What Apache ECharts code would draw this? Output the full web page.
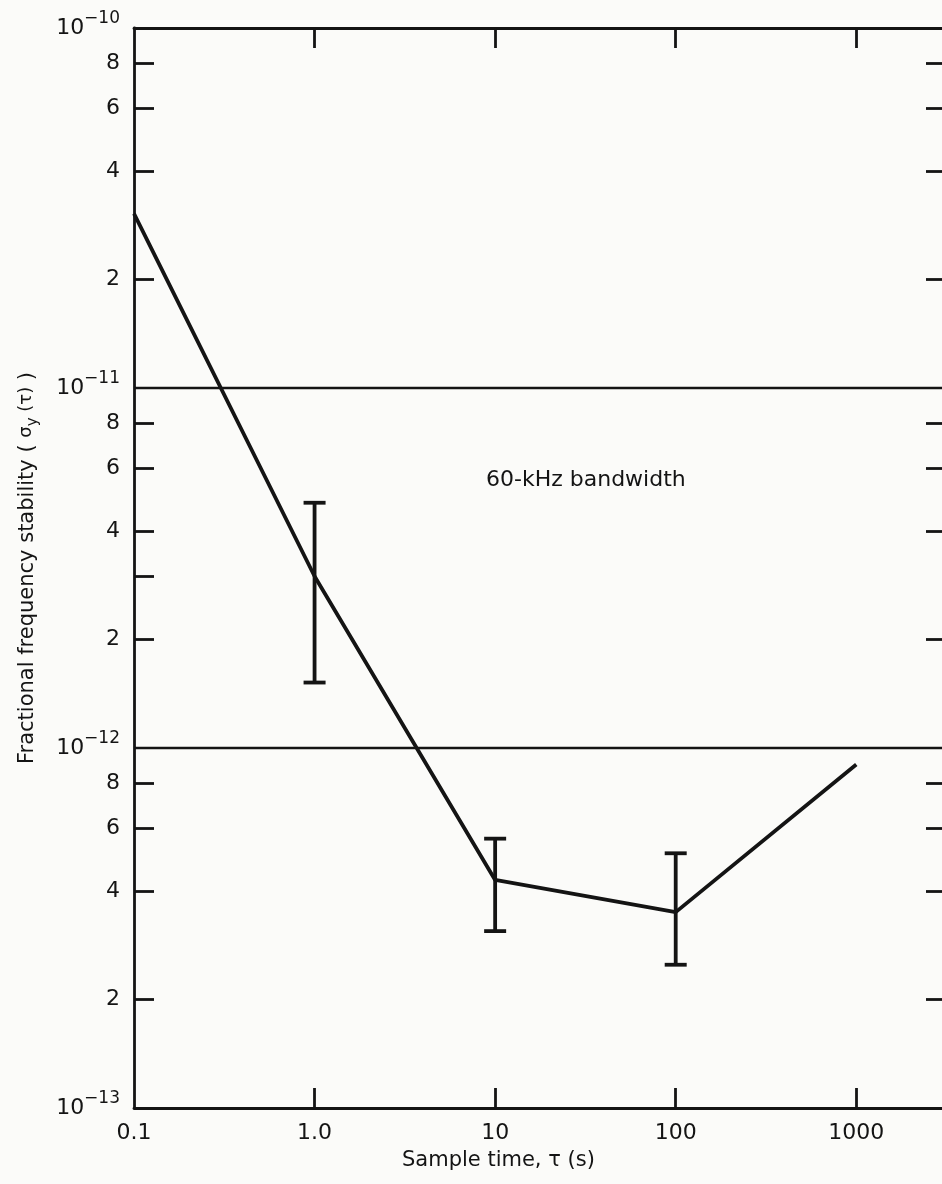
<!DOCTYPE html>
<html>
<head>
<meta charset="utf-8">
<script src="https://cdn.jsdelivr.net/npm/echarts@6/dist/echarts.min.js"></script>
<style>
  html, body { margin: 0; padding: 0; background: #fbfbf9; }
  #chart { width: 942px; height: 1184px; }
</style>
</head>
<body>
<div id="chart"></div>
<script>
// ---- data ----
const tau = [0.1, 1, 10, 100, 1000];                          // sample time (s)
const sigma = [3.05e-11, 3.0e-12, 4.3e-13, 3.5e-13, 9.0e-13]; // sigma_y(tau)

const errTau = [1, 10, 100];
const errLow = [1.52e-12, 3.1e-13, 2.5e-13];
const errHigh = [4.8e-12, 5.6e-13, 5.1e-13];

const xTickValues = [1, 10, 100, 1000];
const xLabelValues = [0.1, 1, 10, 100, 1000];
const xLabels = ['0.1', '1.0', '10', '100', '1000'];

const yLeftTicks = [2e-13, 4e-13, 6e-13, 8e-13, 2e-12, 3e-12, 4e-12, 6e-12, 8e-12, 2e-11, 4e-11, 6e-11, 8e-11];
const yLabelValues = [1e-13, 2e-13, 4e-13, 6e-13, 8e-13, 1e-12, 2e-12, 4e-12, 6e-12, 8e-12, 1e-11, 2e-11, 4e-11, 6e-11, 8e-11, 1e-10];
const yLabels = ['10^−13', '2', '4', '6', '8', '10^−12', '2', '4', '6', '8', '10^−11', '2', '4', '6', '8', '10^−10'];
const yRightTicks = [2e-13, 4e-13, 6e-13, 8e-13, 2e-12, 4e-12, 6e-12, 8e-12, 2e-11, 4e-11, 6e-11, 8e-11];
const gridValues = [1e-12, 1e-11];

const xMin = 0.1, xMax = 3100, yMin = 1e-13, yMax = 1e-10;

function lookup(values, labels, v) {
  let best = 0, bd = Infinity;
  for (let i = 0; i < values.length; i++) {
    const d = Math.abs(Math.log10(values[i]) - Math.log10(v));
    if (d < bd) { bd = d; best = i; }
  }
  return bd < 1e-6 ? labels[best] : '';
}

const INK = '#141414';
const FONT = 'DejaVu Sans';
const AXW = 2.8;

const chart = echarts.init(document.getElementById('chart'), null, { renderer: 'canvas' });

const option = {
  backgroundColor: '#fbfbf9',
  animation: false,
  grid: { left: 134, top: 28, width: 811, height: 1080, containLabel: false, outerBoundsMode: 'none' },
  xAxis: [
    {
      type: 'log', logBase: 10, min: xMin, max: xMax, position: 'bottom',
      axisLine: { show: true, lineStyle: { color: INK, width: AXW } },
      axisTick: { show: true, inside: true, length: 20, customValues: xTickValues, lineStyle: { color: INK, width: AXW } },
      axisLabel: {
        show: true, customValues: xLabelValues, margin: 14, showMinLabel: true,
        color: INK, fontFamily: FONT, fontSize: 22,
        formatter: v => lookup(xLabelValues, xLabels, v)
      },
      splitLine: { show: false }, minorTick: { show: false }
    },
    {
      type: 'log', logBase: 10, min: xMin, max: xMax, position: 'top',
      axisLine: { show: true, lineStyle: { color: INK, width: AXW } },
      axisTick: { show: true, inside: true, length: 20, customValues: xTickValues, lineStyle: { color: INK, width: AXW } },
      axisLabel: { show: false },
      splitLine: { show: false }
    }
  ],
  yAxis: [
    {
      type: 'log', logBase: 10, min: yMin, max: yMax, position: 'left',
      name: '{a|Fractional frequency stability ( }{s|σ}{sub|y}{s| (τ)}{a| )}',
      nameLocation: 'middle', nameGap: 91,
      nameTextStyle: {
        color: INK, fontFamily: FONT, fontSize: 21,
        rich: {
          a: { fontFamily: FONT, fontSize: 21, color: INK, lineHeight: 30, verticalAlign: 'middle' },
          s: { fontFamily: FONT, fontSize: 18, color: INK, lineHeight: 30, verticalAlign: 'middle', padding: [0, 0, 4, 0] },
          sub: { fontFamily: FONT, fontSize: 15, color: INK, lineHeight: 30, verticalAlign: 'middle', padding: [10, 0, 0, 0] }
        }
      },
      axisLine: { show: true, lineStyle: { color: INK, width: AXW } },
      axisTick: { show: true, inside: true, length: 20, customValues: yLeftTicks, lineStyle: { color: INK, width: AXW } },
      axisLabel: {
        show: true, customValues: yLabelValues, margin: 14, color: INK,
        showMinLabel: true, showMaxLabel: true, hideOverlap: false,
        fontFamily: FONT, fontSize: 22,
        formatter: v => {
          const t = lookup(yLabelValues, yLabels, v);
          if (t.indexOf('^') >= 0) {
            const parts = t.split('^');
            return '{b|' + parts[0] + '}{s|' + parts[1] + '}';
          }
          return '{d|' + t + '}';
        },
        rich: {
          d: { fontFamily: FONT, fontSize: 22, color: INK, lineHeight: 24, verticalAlign: 'middle' },
          b: { fontFamily: FONT, fontSize: 22, color: INK, lineHeight: 36, verticalAlign: 'middle' },
          s: { fontFamily: FONT, fontSize: 17, color: INK, lineHeight: 18, verticalAlign: 'top' }
        }
      },
      splitLine: { show: false }, minorTick: { show: false }
    },
    {
      type: 'log', logBase: 10, min: yMin, max: yMax, position: 'right',
      axisLine: { show: true, lineStyle: { color: INK, width: AXW } },
      axisTick: { show: true, inside: true, length: 19, customValues: yRightTicks, lineStyle: { color: INK, width: AXW } },
      axisLabel: { show: false },
      splitLine: { show: false }
    },
    {
      // helper axis: only the two full-width decade lines
      type: 'log', logBase: 10, min: yMin, max: yMax, position: 'left', offset: 0,
      axisLine: { show: false },
      axisTick: { show: false, customValues: gridValues },
      axisLabel: { show: false },
      splitLine: { show: true, lineStyle: { color: INK, width: 2.4, type: 'solid' } }
    }
  ],
  graphic: [
    {
      type: 'text', left: 402, top: 1150,
      style: { text: 'Sample time, τ (s)', fill: INK, font: '21px "DejaVu Sans"' }
    },
    {
      type: 'text', left: 486, top: 469,
      style: { text: '60-kHz bandwidth', fill: INK, font: '22px "DejaVu Sans"' }
    }
  ],
  series: [
    {
      type: 'line', xAxisIndex: 0, yAxisIndex: 0,
      data: tau.map((t, i) => [t, sigma[i]]),
      showSymbol: false, symbol: 'none',
      lineStyle: { color: INK, width: 3.8 },
      z: 3
    },
    {
      type: 'custom', xAxisIndex: 0, yAxisIndex: 0,
      data: errTau.map((t, i) => [t, errLow[i], errHigh[i]]),
      renderItem: (params, api) => {
        const lo = api.coord([api.value(0), api.value(1)]);
        const hi = api.coord([api.value(0), api.value(2)]);
        const w = 11;
        const st = { stroke: INK, lineWidth: 3.8 };
        return {
          type: 'group',
          children: [
            { type: 'line', shape: { x1: lo[0], y1: lo[1], x2: hi[0], y2: hi[1] }, style: st },
            { type: 'line', shape: { x1: lo[0] - w, y1: lo[1], x2: lo[0] + w, y2: lo[1] }, style: st },
            { type: 'line', shape: { x1: hi[0] - w, y1: hi[1], x2: hi[0] + w, y2: hi[1] }, style: st }
          ]
        };
      },
      z: 4
    }
  ]
};

chart.setOption(option);
</script>
</body>
</html>
